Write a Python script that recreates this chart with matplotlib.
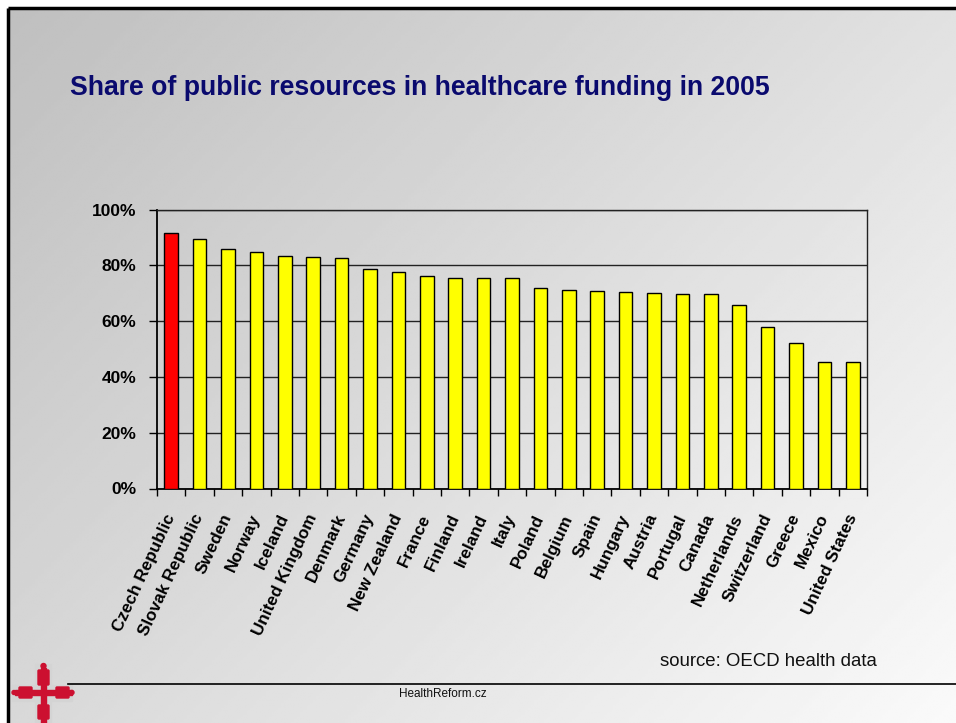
import numpy as np
import matplotlib
matplotlib.use("Agg")
import matplotlib.pyplot as plt
from matplotlib.patches import Rectangle, Ellipse, FancyBboxPatch
from matplotlib.ticker import FixedLocator, PercentFormatter

plt.rcParams['font.family'] = ['Liberation Sans', 'DejaVu Sans']

countries = ["Czech Republic", "Slovak Republic", "Sweden", "Norway", "Iceland",
             "United Kingdom", "Denmark", "Germany", "New Zealand", "France",
             "Finland", "Ireland", "Italy", "Poland", "Belgium", "Spain",
             "Hungary", "Austria", "Portugal", "Canada", "Netherlands",
             "Switzerland", "Greece", "Mexico", "United States"]
public_share = [91.6, 89.4, 85.7, 84.9, 83.5, 83.0, 82.7, 78.6, 77.5, 76.0,
                75.3, 75.3, 75.3, 71.9, 71.2, 70.8, 70.5, 70.1, 69.6, 69.6,
                65.6, 57.8, 52.2, 45.5, 45.2]
highlight = "Czech Republic"
y_ticks = [0, 20, 40, 60, 80, 100]

W, H = 956, 723
fig = plt.figure(figsize=(W / 100, H / 100), dpi=100)

# slide background: diagonal grey gradient inside a black frame
bg = fig.add_axes([0, 0, 1, 1], zorder=-10)
bg.set_xlim(0, W)
bg.set_ylim(H, 0)
bg.axis("off")
xx, yy = np.meshgrid(np.linspace(0, 1, 300), np.linspace(0, 1, 300))
t = np.clip((xx * 0.75 + yy * 0.55) / 1.3, 0, 1)
shade = 0.75 + 0.23 * t
bg.imshow(shade, cmap="gray", vmin=0, vmax=1, extent=[8, W, H, 8],
          aspect="auto", interpolation="bilinear")
bg.plot([8, 8], [8, H], color="black", lw=2.5, solid_capstyle="butt")
bg.plot([8, W], [8, 8], color="black", lw=2.5, solid_capstyle="butt")

# footer rule and site name
bg.plot([68, W], [684, 684], color="black", lw=1.2)
bg.text(443, 694, "HealthReform.cz", fontsize=8.5, ha="center", va="center",
        color="#111111")
bg.text(877, 661, "source: OECD health data", fontsize=13.4, ha="right",
        va="center", color="#111111")

# small red cross logo
red = "#cc1030"
lg = "#d4d4d4"
bg.add_patch(Rectangle((35, 664), 16, 59, color=lg, zorder=1))
bg.add_patch(Rectangle((12, 685), 60, 16, color=lg, zorder=1))
bg.add_patch(Rectangle((41, 668), 5, 55, color=red, zorder=2))
bg.add_patch(Rectangle((15, 690), 57, 5, color=red, zorder=2))
bg.add_patch(Ellipse((43.5, 666), 5, 5, color=red, zorder=3))
bg.add_patch(FancyBboxPatch((39, 671), 9, 13, boxstyle="round,pad=1", color=red, zorder=3))
bg.add_patch(FancyBboxPatch((39, 706), 9, 12, boxstyle="round,pad=1", color=red, zorder=3))
bg.add_patch(FancyBboxPatch((20, 688), 11, 9, boxstyle="round,pad=1", color=red, zorder=3))
bg.add_patch(FancyBboxPatch((57, 688), 11, 9, boxstyle="round,pad=1", color=red, zorder=3))
bg.add_patch(Ellipse((14, 692.5), 4, 4, color=red, zorder=3))
bg.add_patch(Ellipse((72, 692.5), 4, 4, color=red, zorder=3))

# title
bg.text(70, 88, "Share of public resources in healthcare funding in 2005",
        fontsize=19.2, fontweight="bold", color="#0a0a6e", ha="left",
        va="center")

# chart
left, right, top, bottom = 157, 867, 209.5, 488.5
ax = fig.add_axes([left / W, 1 - bottom / H, (right - left) / W, (bottom - top) / H])
ax.patch.set_alpha(0)

x = np.arange(len(countries))
colors = ["#ff0000" if c == highlight else "#ffff00" for c in countries]
ax.bar(x, public_share, width=0.48, color=colors, edgecolor="black",
       linewidth=1.0, zorder=3)

ax.set_xlim(-0.5, len(countries) - 0.5)
ax.set_ylim(0, 100)
ax.yaxis.set_major_locator(FixedLocator(y_ticks))
ax.yaxis.set_major_formatter(PercentFormatter(decimals=0))
ax.grid(axis="y", color="#222222", lw=1.0, zorder=1)
for lab in ax.get_yticklabels():
    lab.set_fontweight("bold")
ax.tick_params(axis="y", length=6, width=1, direction="out", labelsize=12.5,
               pad=9, colors="black")

ax.set_xticks(x)
ax.set_xticklabels(countries, rotation=65, ha="right", va="center",
                   rotation_mode="anchor", fontsize=12.3, fontweight="bold")
ax.set_xticks(np.arange(-0.5, len(countries), 1.0), minor=True)
ax.tick_params(axis="x", which="major", length=0, pad=19)
ax.tick_params(axis="x", which="minor", length=5, width=1, direction="out")

for s in ["left", "bottom"]:
    ax.spines[s].set_linewidth(1.3)
    ax.spines[s].set_color("black")
for s in ["top", "right"]:
    ax.spines[s].set_linewidth(1.0)
    ax.spines[s].set_color("#222222")

fig.savefig("out.png", dpi=100)
